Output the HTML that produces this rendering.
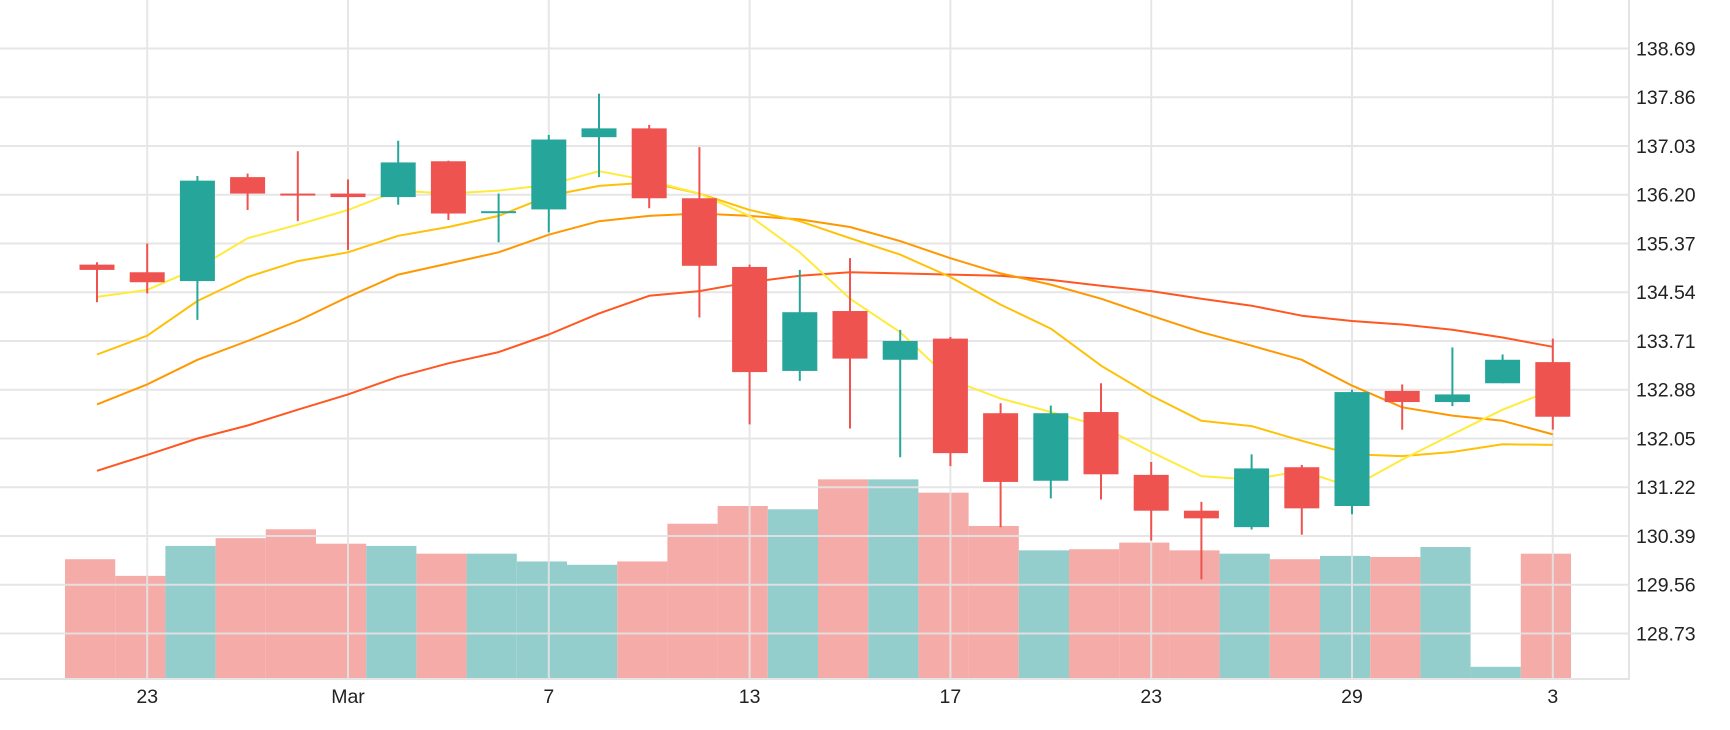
<!DOCTYPE html>
<html><head><meta charset="utf-8"><style>
html,body{margin:0;padding:0;background:#fff;}
svg{display:block;font-family:"Liberation Sans",sans-serif;}
</style></head><body>
<svg id="chart" width="1730" height="730" viewBox="0 0 1730 730" xmlns="http://www.w3.org/2000/svg"></svg>
<script>
const opens  =[135.01,134.88,134.73,136.50,136.22,136.22,136.16,136.77,135.90,135.95,137.18,137.33,136.14,134.97,133.20,134.22,133.39,133.75,132.48,131.33,132.50,131.43,130.82,130.54,131.56,130.90,132.86,132.67,132.99,133.35];
const closes =[134.92,134.71,136.44,136.22,136.21,136.16,136.75,135.88,135.92,137.14,137.33,136.14,134.99,133.18,134.20,133.41,133.71,131.80,131.31,132.48,131.44,130.82,130.69,131.54,130.86,132.84,132.67,132.80,133.39,132.42];
const highs  =[135.05,135.37,136.52,136.56,136.94,136.46,137.12,136.78,136.22,137.22,137.92,137.39,137.01,135.01,134.92,135.12,133.90,133.78,132.65,132.61,132.99,131.65,130.97,131.78,131.60,132.88,132.97,133.60,133.48,133.75];
const lows   =[134.37,134.52,134.07,135.94,135.75,135.26,136.03,135.77,135.39,135.56,136.50,135.97,134.11,132.29,133.03,132.22,131.73,131.58,130.54,131.03,131.01,130.31,129.65,130.50,130.41,130.76,132.20,132.60,132.99,132.20];
const volumes=[108,93,120,127,135,122,120,113,113,106,103,106,140,156,153,180,180,168,138,116,117,123,116,113,108,111,110,119,11,113];
const ma1=[134.46,134.58,134.95,135.46,135.69,135.94,136.27,136.22,136.27,136.37,136.60,136.44,136.22,135.84,135.22,134.43,133.86,133.05,132.73,132.50,132.26,131.82,131.41,131.35,131.50,131.22,131.69,132.12,132.54,132.88];
const ma2=[133.48,133.80,134.39,134.80,135.07,135.22,135.50,135.65,135.84,136.18,136.35,136.41,136.22,135.94,135.75,135.46,135.18,134.80,134.33,133.92,133.29,132.78,132.35,132.26,132.01,131.78,131.75,131.82,131.95,131.94];
const ma3=[132.63,132.97,133.39,133.71,134.05,134.46,134.84,135.03,135.22,135.52,135.75,135.84,135.88,135.84,135.78,135.65,135.41,135.12,134.86,134.67,134.43,134.14,133.86,133.63,133.39,132.95,132.58,132.44,132.35,132.12];
const ma4=[131.50,131.77,132.05,132.27,132.54,132.80,133.10,133.33,133.52,133.82,134.18,134.48,134.56,134.71,134.82,134.88,134.86,134.84,134.82,134.75,134.65,134.56,134.43,134.31,134.14,134.05,133.99,133.90,133.77,133.61];
const yTicks=["138.69","137.86","137.03","136.20","135.37","134.54","133.71","132.88","132.05","131.22","130.39","129.56","128.73"];
const xTickIdx=[1,5,9,13,17,21,25,29];
const xTickLabels=["23","Mar","7","13","17","23","29","3"];

const svg=document.getElementById('chart');
const NS='http://www.w3.org/2000/svg';
const X=i=>97+i*50.2;
const Y=p=>48.5+(138.69-p)*58.73;
const VY=v=>679-v*1.109;
function mk(tag,attrs,parent){const e=document.createElementNS(NS,tag);for(const k in attrs)e.setAttribute(k,attrs[k]);(parent||svg).appendChild(e);return e;}

const gv=mk('g',{});


volumes.forEach((v,i)=>{
  const up=closes[i]>=opens[i];
  const r=mk('rect',{x:X(i)-32,y:VY(v),width:50.2,height:679-VY(v),fill:up?'#93cdcc':'#f5aba7'},gv);
  
  
});
const gg=mk('g',{stroke:'#e4e4e4','stroke-width':2,opacity:0.9});


yTicks.forEach(t=>{const y=Y(parseFloat(t));mk('line',{x1:0,x2:1629,y1:y,y2:y},gg);});
xTickIdx.forEach(i=>mk('line',{x1:X(i),x2:X(i),y1:0,y2:679},gg));
const ax=mk('path',{d:'M0 679H1629V0',stroke:'#e4e4e4','stroke-width':2,fill:'none'});


yTicks.forEach(t=>{
  const tx=mk('text',{x:1636,y:Y(parseFloat(t))+7,'font-size':19.5,fill:'#222'});
  tx.textContent=t;
  
  
});
xTickIdx.forEach((i,k)=>{
  const tx=mk('text',{x:X(i),y:703,'font-size':19.5,fill:'#222','text-anchor':'middle'});
  tx.textContent=xTickLabels[k];
  
  
});
[[ma4,'#ff5722','ma-line-long'],[ma3,'#ff9800','ma-line-mid'],[ma2,'#ffc107','ma-line-short'],[ma1,'#ffeb3b','ma-line-fast']].forEach(([arr,c,n])=>{
  const d=arr.map((p,i)=>(i?'L':'M')+X(i).toFixed(1)+' '+Y(p).toFixed(1)).join('');
  const pth=mk('path',{d:d,stroke:c,'stroke-width':2,fill:'none','stroke-linejoin':'round'});
  
  
});
opens.forEach((o,i)=>{
  const c=closes[i],up=c>=o,col=up?'#26a69a':'#ef5350';
  const g=mk('g',{});
  
  
  mk('line',{x1:X(i),x2:X(i),y1:Y(highs[i]),y2:Y(lows[i]),stroke:col,'stroke-width':2},g);
  const top=Y(Math.max(o,c)),bot=Y(Math.min(o,c));
  mk('rect',{x:X(i)-17.5,y:top,width:35,height:Math.max(2,bot-top),fill:col},g);
});
</script>
</body></html>
